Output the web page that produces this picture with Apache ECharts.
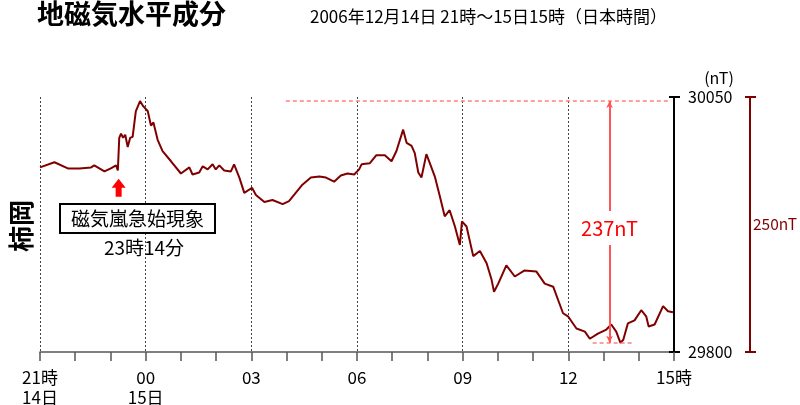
<!DOCTYPE html>
<html>
<head>
<meta charset="utf-8">
<script src="https://cdn.jsdelivr.net/npm/echarts@6/dist/echarts.min.js"></script>
<style>html,body{margin:0;padding:0;background:#fff}#c{width:800px;height:405px}</style>
</head>
<body>
<div id="c"></div>
<script>
// hours since 21:00 JST (14 Dec 2006)
const hours = [0,0.41,0.79,1.12,1.45,1.54,1.83,2.01,2.16,2.21,2.25,2.30,2.36,2.42,2.49,2.56,2.63,2.72,2.84,2.93,3.06,3.15,3.22,3.34,3.48,3.72,4.0,4.24,4.33,4.52,4.62,4.76,4.90,4.99,5.09,5.23,5.42,5.51,5.66,5.80,6.02,6.13,6.37,6.60,6.89,7.07,7.26,7.45,7.69,7.93,8.12,8.35,8.54,8.73,8.92,9.06,9.13,9.36,9.55,9.79,9.98,10.12,10.31,10.41,10.55,10.64,10.74,10.83,10.97,11.07,11.21,11.35,11.49,11.63,11.78,11.92,11.98,12.11,12.30,12.49,12.68,12.82,12.89,13.01,13.24,13.48,13.76,14.09,14.33,14.57,14.71,14.85,14.99,15.23,15.47,15.61,15.84,16.08,16.22,16.36,16.48,16.56,16.69,16.88,17.07,17.21,17.28,17.45,17.69,17.83,17.97];
// horizontal component at Kakioka (nT)
const nT = [29981,29986,29980,29980,29981,29983,29977,29980,29983,29978,30010,30014,30010,30013,30001,30010,30011,30036,30046,30041,30036,30022,30025,30008,29997,29987,29975,29981,29974,29976,29982,29979,29984,29979,29983,29978,29977,29984,29971,29956,29961,29954,29947,29949,29945,29948,29956,29964,29971,29972,29971,29967,29973,29975,29974,29979,29984,29985,29993,29993,29987,29997,30018,30005,30002,29995,29976,29971,29994,29985,29972,29953,29933,29939,29923,29905,29928,29923,29894,29899,29887,29871,29859,29867,29885,29874,29880,29879,29867,29864,29851,29838,29835,29823,29820,29813,29818,29822,29827,29820,29809,29812,29828,29831,29841,29835,29825,29827,29845,29840,29839];
const tickLabels = ['21時\n14日','00\n15日','03','06','09','12','15時'];
const yTicks = [29800, 30050];
const peakNT = 30046, troughNT = 29809, rangeText = '237nT';
const sscHour = 2.233;            // 23時14分
const sscText = '磁気嵐急始現象', sscTimeText = '23時14分';

const FONT = '"Noto Sans CJK JP", "Noto Sans", sans-serif';
const chart = echarts.init(document.getElementById('c'), null, {renderer:'canvas'});
const dark = '#800000';
const yBase = {type:'value', position:'right', min:yTicks[0], max:yTicks[1], interval:yTicks[1]-yTicks[0], splitLine:{show:false}};
const option = {
  animation:false,
  textStyle:{fontFamily:FONT},
  grid:{left:40, right:126, top:97, bottom:53, containLabel:false, outerBoundsMode:'none'},
  xAxis:{
    type:'value', min:0, max:18, interval:3,
    axisLine:{show:true, onZero:false, lineStyle:{color:'#555', width:1.5}},
    axisTick:{show:true, length:9, lineStyle:{color:'#555', width:1.5}},
    minorTick:{show:true, splitNumber:3, length:9, lineStyle:{color:'#555', width:1.5}},
    splitLine:{show:true, lineStyle:{type:[2,2], color:'#444', width:1}},
    axisLabel:{formatter:v=>tickLabels[Math.round(v/3)], fontSize:17, lineHeight:20, color:'#000', margin:16, fontFamily:FONT}
  },
  yAxis:[
    Object.assign({}, yBase, {
     axisLine:{show:true, onZero:false, lineStyle:{color:'#000', width:2}},
     axisTick:{show:true, length:6, lineStyle:{color:'#000', width:2}},
     axisLabel:{show:true, fontSize:16, color:'#000', margin:14, fontFamily:FONT, formatter:v=>String(v)}}),
    Object.assign({}, yBase, {
     axisLine:{show:false, onZero:false}, axisTick:{show:true, inside:true, length:5, lineStyle:{color:'#000', width:2}},
     axisLabel:{show:false}}),
    Object.assign({}, yBase, {offset:76,
     axisLine:{show:true, onZero:false, lineStyle:{color:dark, width:2}},
     axisTick:{show:true, length:6, lineStyle:{color:dark, width:2}},
     axisLabel:{show:false},
     name:'250nT', nameLocation:'middle', nameRotate:0, nameGap:3,
     nameTextStyle:{color:dark, fontSize:15.5, align:'left', fontFamily:FONT}}),
    Object.assign({}, yBase, {offset:76,
     axisLine:{show:false, onZero:false}, axisTick:{show:true, inside:true, length:5, lineStyle:{color:dark, width:2}},
     axisLabel:{show:false}})
  ],
  series:[{
    type:'line', yAxisIndex:0, showSymbol:false, symbol:'none',
    data: hours.map((h,i)=>[h, nT[i]]),
    lineStyle:{color:dark, width:2}, z:3,
    markLine:{
      silent:true, symbol:'none', animation:false,
      label:{show:false},
      data:[
        [{coord:[6.98, peakNT], lineStyle:{color:'#ff8080', type:[4,3], width:1.5}}, {coord:[17.83, peakNT]}],
        [{coord:[15.69, troughNT], lineStyle:{color:'#ff8080', type:[4,3], width:1.5}}, {coord:[16.80, troughNT]}],
        [{coord:[16.17, peakNT], symbol:'arrow', symbolSize:[5,7], lineStyle:{color:'#ff5555', type:'solid', width:2}},
         {coord:[16.17, troughNT], symbol:'arrow', symbolSize:[5,7]}]
      ]
    },
    markPoint:{
      silent:true, animation:false,
      data:[
        {coord:[16.17, (peakNT+troughNT)/2 - 6], symbol:'rect', symbolSize:[64,34],
         itemStyle:{color:'#fff'},
         label:{show:true, formatter:rangeText, color:'#ff0000', fontSize:20, fontFamily:FONT}},
        {coord:[sscHour, 29961], symbol:'path://M7,0 L14,9 L10,9 L10,18 L4,18 L4,9 L0,9 Z', symbolSize:[14,18],
         itemStyle:{color:'#ff0000'}, label:{show:false}}
      ]
    }
  }],
  graphic:[
    {type:'text', x:37, y:14, style:{text:'地磁気水平成分', font:'bold 27px '+FONT, fill:'#000', align:'left', verticalAlign:'middle'}},
    {type:'text', x:310, y:17, style:{text:'2006年12月14日 21時～15日15時（日本時間）', font:'17px '+FONT, fill:'#000', align:'left', verticalAlign:'middle'}},
    {type:'text', x:719, y:78, style:{text:'(nT)', font:'16px '+FONT, fill:'#000', align:'center', verticalAlign:'middle'}},
    {type:'text', x:21, y:226, rotation:Math.PI/2, style:{text:'柿岡', font:'bold 26px '+FONT, fill:'#000', align:'center', verticalAlign:'middle'}},
    {type:'rect', shape:{x:60, y:204, width:155, height:29}, style:{fill:'#fff', stroke:'#000', lineWidth:2}, z:10},
    {type:'text', x:137.5, y:218.5, z:11, style:{text:sscText, font:'19px '+FONT, fill:'#000', align:'center', verticalAlign:'middle'}},
    {type:'text', x:144, y:248, z:11, style:{text:sscTimeText, font:'19px '+FONT, fill:'#000', align:'center', verticalAlign:'middle'}}
  ]
};
chart.setOption(option);
</script>
</body>
</html>
